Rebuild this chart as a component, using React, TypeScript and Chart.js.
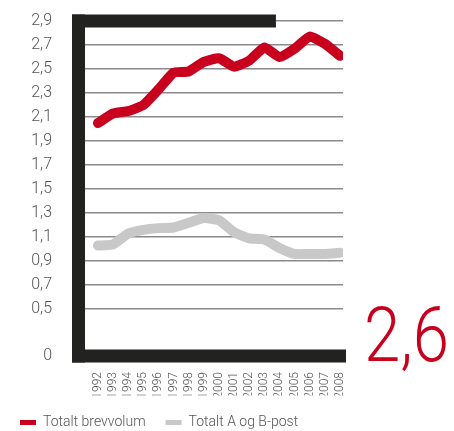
import React, { useEffect, useRef } from "react";
import { Chart, registerables } from "chart.js";

Chart.register(...registerables);

const YEARS = [1992, 1993, 1994, 1995, 1996, 1997, 1998, 1999, 2000, 2001, 2002, 2003, 2004, 2005, 2006, 2007, 2008];
const BREVVOLUM = [2.05, 2.13, 2.15, 2.2, 2.33, 2.47, 2.48, 2.56, 2.59, 2.52, 2.57, 2.68, 2.6, 2.67, 2.77, 2.71, 2.61];
const AB_POST = [1.03, 1.04, 1.13, 1.16, 1.175, 1.18, 1.22, 1.26, 1.24, 1.14, 1.09, 1.08, 1.01, 0.96, 0.96, 0.96, 0.97];
const SERIES_NAMES = ["Totalt brevvolum", "Totalt A og B-post"];
const Y_BREAK = 0.11; // axis break, labelled "0"
const Y_TICKS = [0.5, 0.7, 0.9, 1.1, 1.3, 1.5, 1.7, 1.9, 2.1, 2.3, 2.5, 2.7, 2.9];
const BIG_LABEL = "2,6";

const RED = "#c8001e";
const GREY = "#c8c8c8";
const DARK = "#222220";

const framePlugin = {
  id: "frame",
  beforeDatasetsDraw(chart: any) {
    const { ctx, chartArea, scales } = chart;
    const y = scales.y;
    const bw = 13;
    const topY = y.getPixelForValue(2.9);
    const botY = chartArea.bottom;
    ctx.save();
    ctx.fillStyle = DARK;
    ctx.fillRect(chartArea.left - bw, topY - bw / 2, bw, botY - topY + bw);
    const topRight = chartArea.left + (chartArea.right - chartArea.left) * 0.74;
    ctx.fillRect(chartArea.left - bw, topY - bw / 2, topRight - chartArea.left + bw, bw);
    ctx.fillRect(chartArea.left - bw, botY - bw / 2, chartArea.right + 3 - chartArea.left + bw, bw);
    ctx.restore();
  },
  afterDraw(chart: any) {
    const { ctx, chartArea } = chart;
    ctx.save();
    ctx.fillStyle = RED;
    ctx.font = "300 76px Roboto";
    ctx.textBaseline = "alphabetic";
    ctx.translate(chartArea.right + 21, chartArea.bottom + 5);
    ctx.scale(0.86, 1);
    ctx.fillText(BIG_LABEL, 0, 0);
    ctx.restore();
  },
};

export default function App() {
  const ref = useRef<HTMLCanvasElement | null>(null);
  useEffect(() => {
    if (!ref.current) return;
    Chart.defaults.font.family = "Roboto";
    const chart = new Chart(ref.current, {
      type: "line",
      data: {
        datasets: [
          {
            label: SERIES_NAMES[0],
            data: YEARS.map((x, i) => ({ x, y: BREVVOLUM[i] })),
            borderColor: RED,
            backgroundColor: RED,
            borderWidth: 10,
            pointRadius: 0,
            tension: 0.15,
            borderJoinStyle: "round",
            borderCapStyle: "round",
          },
          {
            label: SERIES_NAMES[1],
            data: YEARS.map((x, i) => ({ x, y: AB_POST[i] })),
            borderColor: GREY,
            backgroundColor: GREY,
            borderWidth: 10,
            pointRadius: 0,
            tension: 0.15,
            borderJoinStyle: "round",
            borderCapStyle: "round",
          },
        ],
      },
      options: {
        animation: false,
        responsive: true,
        maintainAspectRatio: false,
        layout: { padding: { left: 0, top: 21, right: 111, bottom: -8.5 } },
        plugins: {
          tooltip: { enabled: false },
          legend: {
            position: "bottom",
            align: "start",
            labels: {
              boxWidth: 16,
              boxHeight: 5,
              padding: 20,
              color: "#555",
              font: { size: 14, weight: 300 },
              generateLabels: (c: any) =>
                (Chart.defaults.plugins.legend.labels as any).generateLabels(c).map((l: any) => ({ ...l, lineWidth: 0 })),
            },
          },
        },
        scales: {
          x: {
            type: "linear",
            bounds: "data",
            min: 1991.14,
            max: 2008.2,
            border: { display: false },
            grid: { display: false, drawTicks: false },
            afterBuildTicks: (s: any) => {
              s.ticks = YEARS.map((v) => ({ value: v }));
            },
            afterFit: (s: any) => {
              s.height = 39.5;
            },
            ticks: {
              autoSkip: false,
              minRotation: 90,
              maxRotation: 90,
              padding: 16,
              color: "#555",
              font: { size: 12, weight: 300 },
              callback: (v: any) => String(v),
            },
          },
          y: {
            bounds: "data",
            min: Y_BREAK,
            max: 2.9,
            border: { display: false },
            grid: { color: "#8a8a8a", lineWidth: 1.5, drawTicks: true, tickLength: 30, tickColor: "rgba(0,0,0,0)" },
            afterBuildTicks: (s: any) => {
              s.ticks = [Y_BREAK, ...Y_TICKS].map((v) => ({ value: v }));
            },
            afterFit: (s: any) => {
              s.width = 85;
            },
            ticks: {
              padding: 3,
              color: "#555",
              font: { size: 16, weight: 300 },
              callback: (v: any) => (v === Y_BREAK ? "0" : Number(v).toFixed(1).replace(".", ",")),
            },
          },
        },
      },
      plugins: [framePlugin],
    } as any);
    return () => chart.destroy();
  }, []);
  return (
    <div style={{ position: "fixed", left: 0, top: 0, width: 454, height: 431, background: "#fff" }}>
      <canvas ref={ref} />
    </div>
  );
}
